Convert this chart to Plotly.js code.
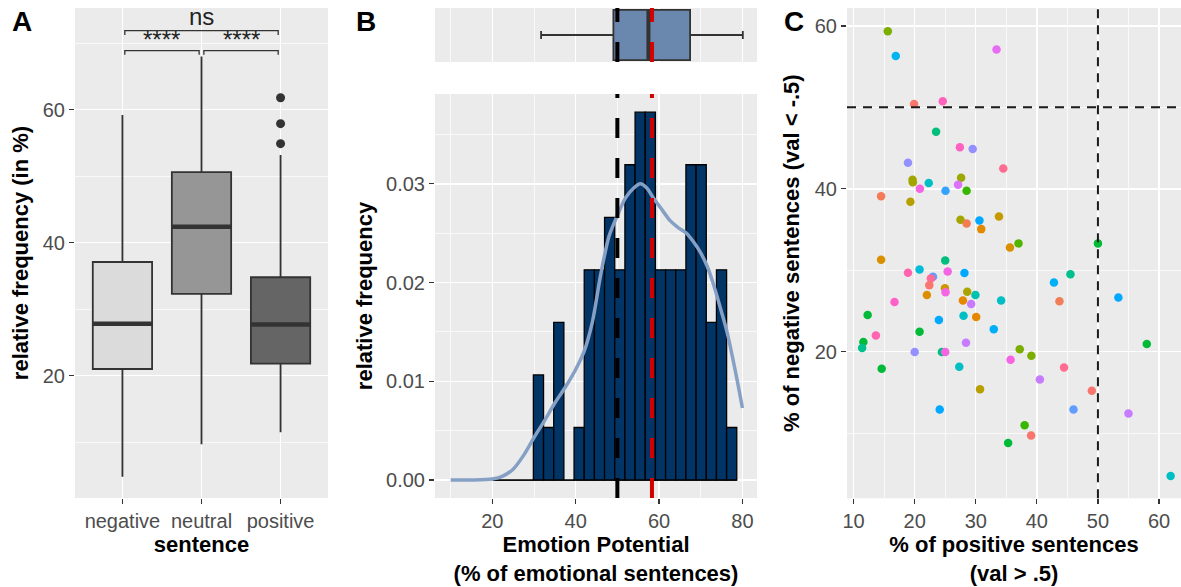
<!DOCTYPE html>
<html>
<head>
<meta charset="utf-8">
<script src="https://cdn.plot.ly/plotly-3.0.1.min.js"></script>
<style>
html,body{margin:0;padding:0;background:#ffffff;}
#chart{width:1181px;height:587px;}
</style>
</head>
<body>
<div id="chart"></div>
<script>
// ---------- Panel A: relative frequency by sentence type ----------
const sentenceTypes = ['negative', 'neutral', 'positive'];
const boxQ1 = [21.0, 32.3, 21.8];
const boxMedian = [27.8, 42.4, 27.7];
const boxQ3 = [37.1, 50.6, 34.8];
const boxLower = [4.8, 9.7, 11.5];
const boxUpper = [59.2, 68.0, 53.2];
const boxFill = ['#DBDBDB', '#969696', '#656565'];
const outlierGroup = [2, 2, 2];
const outlierValue = [61.8, 57.9, 54.9];
const sigFrom = [0, 1, 0];
const sigTo = [1, 2, 2];
const sigText = ['****', '****', 'ns'];
const sigHeight = [68.9, 68.9, 71.9];

// ---------- Panel B: emotion potential ----------
const binCenters = [21.31, 23.75, 26.19, 28.63, 31.07, 33.51, 35.95, 38.39, 40.83, 43.27,
  45.71, 48.15, 50.59, 53.03, 55.47, 57.91, 60.35, 62.79, 65.23, 67.67,
  70.11, 72.55, 74.99, 77.43];
const binCounts = [0, 0, 0, 0, 2, 1, 3, 0, 1, 4, 4, 5, 4, 6, 7, 7, 4, 4, 4, 6, 6, 3, 4, 1];
const binWidth = 2.44;
const nTexts = 77;
const densityX = [10, 15, 20, 22.5, 25, 27.5, 30, 32.5, 35, 37.5, 40, 42, 44, 46, 48, 50,
  52, 54, 55.5, 57, 58.6, 60.5, 62.6, 64.5, 66.6, 68.3, 70, 71.5, 73, 75, 76.3, 78.7, 80];
const densityY = [0, 0, 0.0001, 0.0004, 0.0011, 0.0025, 0.0043, 0.0060, 0.0078, 0.0094, 0.0112,
  0.0130, 0.0160, 0.0208, 0.0247, 0.0268, 0.0286, 0.0296, 0.0300, 0.0296, 0.0286, 0.0275,
  0.0263, 0.0256, 0.0250, 0.0241, 0.0230, 0.0217, 0.0199, 0.0170, 0.0150, 0.0102, 0.0073];
const epQ1 = [49.05];
const epMedian = [57.45];
const epQ3 = [67.45];
const epLower = [31.7];
const epUpper = [80.1];
const epThreshold = 50;
const epMean = 58.3;

// ---------- Panel C: positive vs negative sentences per text ----------
const posPct = [15.6, 16.9, 33.4, 19.9, 24.6, 23.5, 27.4, 29.5, 18.9, 34.5,
  19.65, 19.7, 22.3, 27.6, 27.1, 20.85, 25.05, 28.5, 14.5, 19.3,
  33.8, 27.5, 28.5, 30.6, 30.9, 37.0, 35.6, 50.0, 14.5, 25.0,
  18.9, 20.8, 23.0, 22.65, 22.4, 25.4, 28.15, 45.5, 42.8, 24.95,
  25.05, 28.6, 29.95, 22.0, 27.9, 29.25, 34.15, 43.7, 53.35, 16.7,
  12.3, 28.0, 30.07, 23.96, 20.8, 32.95, 13.65, 11.6, 11.4, 28.4,
  58.0, 20.0, 24.45, 25.0, 37.2, 39.1, 35.7, 44.45, 27.3, 14.6,
  40.5, 30.7, 49.0, 24.1, 46.0, 55.0, 38.0, 39.06, 35.3, 61.9];
const negPct = [59.35, 56.3, 57.1, 50.4, 50.75, 47.0, 45.1, 44.9, 43.2, 42.5,
  41.1, 40.8, 40.7, 41.35, 40.5, 40.0, 39.75, 39.75, 39.1, 38.4,
  36.6, 36.2, 35.75, 36.1, 35.05, 33.3, 32.8, 33.3, 31.3, 31.2,
  29.7, 30.1, 29.2, 29.0, 28.15, 29.85, 29.65, 29.5, 28.5, 27.8,
  27.3, 27.35, 26.95, 26.95, 26.3, 25.85, 26.3, 26.2, 26.65, 26.1,
  24.5, 24.4, 24.25, 23.9, 22.45, 22.75, 22.0, 21.2, 20.45, 21.1,
  20.95, 19.95, 19.95, 19.95, 20.3, 19.5, 19.0, 18.05, 18.15, 17.9,
  16.6, 15.4, 15.2, 12.9, 12.9, 12.4, 10.96, 9.7, 8.8, 4.75];
const pointColor = ['#7CAE00', '#00B4EF', '#E76BF3', '#F8766D', '#FF62BC', '#00BF7D', '#FF61C3', '#9590FF', '#9590FF', '#FF6C91',
  '#A3A500', '#A3A500', '#00BFC4', '#9CA700', '#DC71FA', '#F564E3', '#35A2FF', '#39B600', '#F37B59', '#B79F00',
  '#C49A00', '#A3A500', '#F17D50', '#00A9FF', '#E38900', '#53B400', '#D89000', '#00BA38', '#D89000', '#00BF7D',
  '#FF65AE', '#00BCD8', '#619CFF', '#FF6A98', '#F8766D', '#F564E3', '#00A9FF', '#00C08B', '#00B0F6', '#CD9600',
  '#F564E3', '#ABA300', '#00C0AF', '#DB8E00', '#E58700', '#C77CFF', '#00BFC4', '#F07F58', '#00A9FF', '#FF61C9',
  '#00BA38', '#00BFC4', '#E58700', '#00A9FF', '#00BA38', '#00B0F6', '#FF64B0', '#00BA38', '#00C08B', '#C77CFF',
  '#00BA38', '#9590FF', '#00BF7D', '#F564E3', '#7CAE00', '#7CAE00', '#F564E3', '#FF6C91', '#00BFC4', '#00BA38',
  '#C77CFF', '#B79F00', '#F8766D', '#00A9FF', '#619CFF', '#C77CFF', '#39B600', '#F8766D', '#00BA38', '#00BFC4'];
const posCut = 50;
const negCut = 50;

// ---------- build ----------
const FONT = 'Liberation Sans, Arial, Helvetica, sans-serif';
const W = 1181, H = 587;
const traces = [];

// Panel A boxes
const boxW = 0.75;
sentenceTypes.forEach((s, i) => {
  traces.push({
    type: 'box', name: s, x: [i],
    q1: [boxQ1[i]], median: [boxMedian[i]], q3: [boxQ3[i]],
    lowerfence: [boxLower[i]], upperfence: [boxUpper[i]],
    width: boxW, whiskerwidth: 0, boxpoints: false,
    fillcolor: boxFill[i], line: {color: '#333333', width: 1.8},
    hoverinfo: 'skip', xaxis: 'x', yaxis: 'y'
  });
});
const medX = [], medY = [];
sentenceTypes.forEach((s, i) => {
  medX.push(i - boxW / 2, i + boxW / 2, null);
  medY.push(boxMedian[i], boxMedian[i], null);
});
traces.push({type: 'scatter', mode: 'lines', x: medX, y: medY,
  line: {color: '#333333', width: 4.5}, hoverinfo: 'skip', xaxis: 'x', yaxis: 'y'});
traces.push({type: 'scatter', mode: 'markers', x: outlierGroup, y: outlierValue,
  marker: {color: '#333333', size: 9}, hoverinfo: 'skip', xaxis: 'x', yaxis: 'y'});
// significance brackets
const brX = [], brY = [];
const tip = 0.65, inset = 0.03;
sigFrom.forEach((f, k) => {
  const a = f + inset, b = sigTo[k] - inset, h = sigHeight[k];
  brX.push(a, a, b, b, null);
  brY.push(h - tip, h, h, h - tip, null);
});
traces.push({type: 'scatter', mode: 'lines', x: brX, y: brY,
  line: {color: '#333333', width: 1.3}, hoverinfo: 'skip', xaxis: 'x', yaxis: 'y'});

// Panel B histogram
const density = binCounts.map(c => c / (nTexts * binWidth));
traces.push({type: 'scatter', mode: 'lines',
  x: [binCenters[0] - binWidth / 2, binCenters[binCenters.length - 1] + binWidth / 2], y: [0, 0],
  line: {color: '#000000', width: 1.3}, hoverinfo: 'skip', xaxis: 'x2', yaxis: 'y2'});
traces.push({type: 'bar', x: binCenters, y: density, width: binWidth,
  marker: {color: '#023466', line: {color: '#000000', width: 1.3}},
  hoverinfo: 'skip', xaxis: 'x2', yaxis: 'y2'});
traces.push({type: 'scatter', mode: 'lines', x: densityX, y: densityY,
  line: {color: '#86A0C5', width: 3.5, shape: 'spline', smoothing: 0.8},
  hoverinfo: 'skip', xaxis: 'x2', yaxis: 'y2'});
// Panel B top box
const epBoxW = 1.12;
traces.push({type: 'box', orientation: 'h', y: [0],
  q1: epQ1, median: epMedian, q3: epQ3, lowerfence: epLower, upperfence: epUpper,
  width: epBoxW, whiskerwidth: 0.16, boxpoints: false,
  fillcolor: '#6A87AD', line: {color: '#333333', width: 1.8},
  hoverinfo: 'skip', xaxis: 'x3', yaxis: 'y3'});
traces.push({type: 'scatter', mode: 'lines', x: [epMedian[0], epMedian[0]], y: [-epBoxW / 2, epBoxW / 2],
  line: {color: '#333333', width: 4}, hoverinfo: 'skip', xaxis: 'x3', yaxis: 'y3'});

// Panel C scatter
traces.push({type: 'scatter', mode: 'markers', x: posPct, y: negPct,
  marker: {color: pointColor, size: 8.5}, hoverinfo: 'skip', xaxis: 'x4', yaxis: 'y4'});

// ---------- layout ----------
const px = v => v / W;
const py = v => 1 - v / H;
const tickFont = {family: FONT, size: 20, color: '#4D4D4D'};
const titleFont = {family: FONT, size: 22, color: '#000000'};
const minorGrid = d => ({dtick: d, showgrid: true, gridcolor: '#FFFFFF', gridwidth: 0.7, ticks: ''});
function ax(extra) {
  return Object.assign({
    showgrid: true, gridcolor: '#FFFFFF', gridwidth: 1.4, zeroline: false, showline: false,
    ticks: 'outside', ticklen: 5, tickwidth: 1.2, tickcolor: '#333333', tickfont: tickFont,
    fixedrange: true, automargin: false
  }, extra);
}

const annotations = [];
sigFrom.forEach((f, k) => {
  annotations.push({xref: 'x', yref: 'y', x: (f + sigTo[k]) / 2, y: sigHeight[k],
    yanchor: 'bottom', showarrow: false, text: sigText[k],
    font: {family: FONT, size: 24, color: '#222222'}, yshift: sigText[k] === 'ns' ? -1 : -4});
});
[['A', 10], ['B', 354], ['C', 782]].forEach(([t, x]) => {
  annotations.push({xref: 'paper', yref: 'paper', x: px(x), y: py(21), xanchor: 'left', yanchor: 'middle',
    showarrow: false, text: '<b>' + t + '</b>', font: {family: FONT, size: 28, color: '#000000'}});
});

const vline = (xr, yr, x, color) => ({type: 'line', xref: xr, yref: yr + ' domain', x0: x, x1: x, y0: 0, y1: 1,
  line: {color: color, width: 4, dash: '20px,20px'}, layer: 'above'});
const shapes = [
  vline('x2', 'y2', epThreshold, '#000000'),
  vline('x3', 'y3', epThreshold, '#000000'),
  vline('x2', 'y2', epMean, '#D40000'),
  vline('x3', 'y3', epMean, '#D40000'),
  {type: 'line', xref: 'x4', yref: 'y4 domain', x0: posCut, x1: posCut, y0: 0, y1: 1,
    line: {color: '#1A1A1A', width: 2, dash: '9px,7px'}, layer: 'above'},
  {type: 'line', xref: 'x4 domain', yref: 'y4', x0: 0, x1: 1, y0: negCut, y1: negCut,
    line: {color: '#1A1A1A', width: 2, dash: '9px,7px'}, layer: 'above'}
];

const layout = {
  width: W, height: H,
  margin: {l: 0, r: 0, t: 0, b: 0},
  paper_bgcolor: '#FFFFFF', plot_bgcolor: '#EBEBEB',
  showlegend: false, boxmode: 'overlay',
  font: {family: FONT},
  xaxis: ax({domain: [px(75), px(328)], anchor: 'y', range: [-0.6, 2.6],
    tickmode: 'array', tickvals: [0, 1, 2], ticktext: sentenceTypes,
    title: {text: '<b>sentence</b>', font: titleFont, standoff: 5}}),
  yaxis: ax({domain: [py(498), py(8)], anchor: 'x', range: [1.6, 75.3],
    dtick: 20, tick0: 0, minor: minorGrid(10),
    title: {text: '<b>relative frequency (in %)</b>', font: titleFont, standoff: 8}}),
  xaxis2: ax({domain: [px(435), px(757)], anchor: 'y2', range: [6.25, 83.5],
    dtick: 20, tick0: 0, minor: minorGrid(10),
    title: {text: '<b>Emotion Potential<br>(% of emotional sentences)</b>', font: titleFont, standoff: 5}}),
  yaxis2: ax({domain: [py(498), py(94)], anchor: 'x2', range: [-0.00182, 0.0391],
    dtick: 0.01, tick0: 0, tickformat: '.2f', minor: minorGrid(0.005),
    title: {text: '<b>relative frequency</b>', font: titleFont, standoff: 7}}),
  xaxis3: ax({domain: [px(435), px(757)], anchor: 'y3', matches: 'x2', range: [6.25, 83.5],
    dtick: 20, tick0: 0, minor: minorGrid(10), showticklabels: false, ticks: ''}),
  yaxis3: ax({domain: [py(62), py(8)], anchor: 'x3', range: [-0.6, 0.6],
    showgrid: false, showticklabels: false, ticks: ''}),
  xaxis4: ax({domain: [px(847), 1], anchor: 'y4', range: [8.92, 63.6],
    dtick: 10, tick0: 0, minor: minorGrid(5),
    title: {text: '<b>% of positive sentences<br>(val > .5)</b>', font: titleFont, standoff: 5}}),
  yaxis4: ax({domain: [py(498.3), py(8)], anchor: 'x4', range: [2.0, 62.2],
    dtick: 20, tick0: 0, minor: minorGrid(10),
    title: {text: '<b>% of negative sentences (val < -.5)</b>', font: titleFont, standoff: 9}}),
  shapes: shapes,
  annotations: annotations
};

Plotly.newPlot('chart', traces, layout, {staticPlot: true, displayModeBar: false});
</script>
</body>
</html>
